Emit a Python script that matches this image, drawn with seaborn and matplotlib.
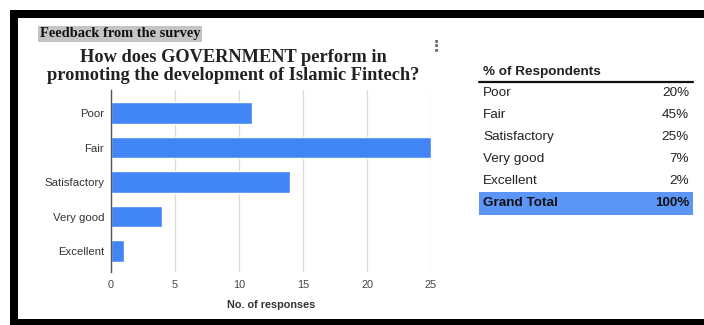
import matplotlib
matplotlib.use("Agg")
import matplotlib.pyplot as plt
import seaborn as sns
import pandas as pd
from matplotlib.patches import Rectangle

# Survey answers
categories = ["Poor", "Fair", "Satisfactory", "Very good", "Excellent"]
responses = [11, 25, 14, 4, 1]
percents = [20, 45, 25, 7, 2]
grand_total = 100
x_ticks = [0, 5, 10, 15, 20, 25]

df = pd.DataFrame({"Rating": categories, "Responses": responses})

W, H = 704, 325
fig = plt.figure(figsize=(W / 100, H / 100), dpi=100)
fig.patch.set_facecolor("white")

def fx(px):
    return px / W

def fy(py):
    return 1 - py / H

sns.set_style("white")
sans = ["Liberation Sans", "DejaVu Sans"]
serif = ["Liberation Serif", "DejaVu Serif"]

# Bar chart
ax = fig.add_axes([fx(111), fy(272), fx(431) - fx(111), fy(90) - fy(272)])
sns.barplot(data=df, y="Rating", x="Responses", orient="h", color="#4285f4",
            width=0.62, saturation=1, ax=ax, zorder=3)
ax.set_xlim(0, 25)
ax.set_ylim(4.61, -0.67)
ax.set_xticks(x_ticks)
ax.set_xticklabels([str(t) for t in x_ticks], family=sans, fontsize=7.8, color="#444444")
ax.set_yticks(range(len(categories)))
ax.set_yticklabels(categories, family=sans, fontsize=8.2, color="#333333")
ax.tick_params(axis="y", length=0, pad=5)
ax.tick_params(axis="x", length=0, pad=6)
ax.grid(axis="x", color="#d9d9d9", linewidth=0.9, zorder=0)
for s in ["top", "right", "bottom"]:
    ax.spines[s].set_visible(False)
ax.spines["left"].set_color("#555555")
ax.spines["left"].set_linewidth(1.0)
ax.spines["left"].set_zorder(4)
ax.set_ylabel("")
ax.set_xlabel("No. of responses", family=sans, fontsize=7.8, fontweight="bold",
              color="#333333", labelpad=7)

# Header and title
fig.text(fx(40), fy(34), "Feedback from the survey", family=serif, fontsize=10.4,
         fontweight="bold", color="#111111", va="center", ha="left",
         bbox=dict(boxstyle="square,pad=0.12", facecolor="#c4c4c4", edgecolor="none"))
fig.text(fx(233), fy(58), "How does GOVERNMENT perform in", family=serif,
         fontsize=13.2, fontweight="bold", color="#222222", ha="center", va="center")
fig.text(fx(233), fy(75), "promoting the development of Islamic Fintech?", family=serif,
         fontsize=13.2, fontweight="bold", color="#222222", ha="center", va="center")
fig.text(fx(436), fy(46), "\u22ee", family=["DejaVu Sans"], fontsize=11,
         fontweight="bold", color="#666666", ha="center", va="center")

# Percentage table
tx0, tx1 = 479, 693
fig.text(fx(483), fy(72), "% of Respondents", family=sans, fontsize=9.7,
         fontweight="bold", color="#222222", ha="left", va="center")
fig.add_artist(plt.Line2D([fx(tx0), fx(tx1)], [fy(82), fy(82)], color="#111111",
                          linewidth=1.6))
row_y = [93, 115, 137, 159, 181]
for cat, pct, y in zip(categories, percents, row_y):
    fig.text(fx(483), fy(y), cat, family=sans, fontsize=9.7, color="#222222",
             ha="left", va="center")
    fig.text(fx(689), fy(y), f"{pct}%", family=sans, fontsize=9.7, color="#222222",
             ha="right", va="center")
fig.add_artist(Rectangle((fx(tx0), fy(215)), fx(tx1) - fx(tx0), fy(192) - fy(215),
                         transform=fig.transFigure, facecolor="#5b95f5",
                         edgecolor="none"))
fig.text(fx(483), fy(203), "Grand Total", family=sans, fontsize=9.7, fontweight="bold",
         color="#111111", ha="left", va="center")
fig.text(fx(689), fy(203), f"{grand_total}%", family=sans, fontsize=9.7,
         fontweight="bold", color="#111111", ha="right", va="center")

# Black frame on left, top and bottom
for (x0, y0, x1, y1) in [(10, 10, 18, 325), (10, 10, 704, 18), (10, 319, 704, 325)]:
    fig.add_artist(Rectangle((fx(x0), fy(y1)), fx(x1) - fx(x0), fy(y0) - fy(y1),
                             transform=fig.transFigure, facecolor="black",
                             edgecolor="none"))

fig.savefig("out.png", dpi=100)
